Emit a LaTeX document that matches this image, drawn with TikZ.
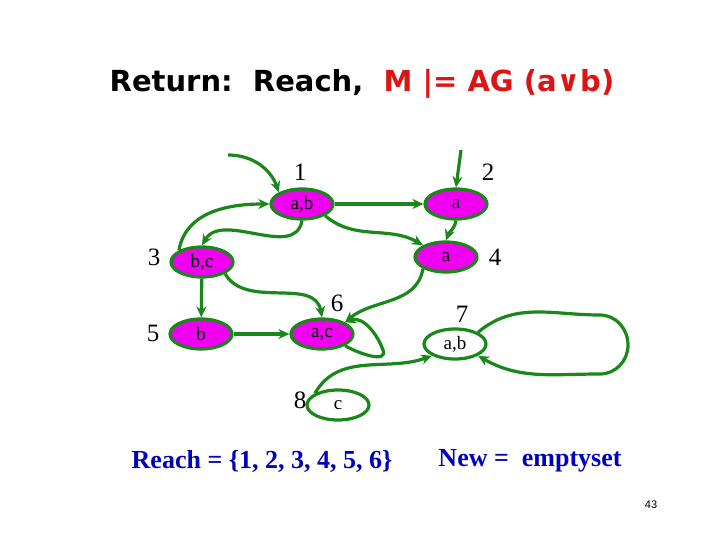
\documentclass[tikz,border=0pt]{standalone}
\usepackage{fontspec}
\setmainfont{Liberation Serif}
\newfontfamily\titlefont{DejaVu Sans}
\newfontfamily\numfont{Liberation Sans}
\usetikzlibrary{shapes.geometric,arrows.meta}
\definecolor{egreen}{RGB}{25,135,25}
\definecolor{mag}{RGB}{240,0,240}
\definecolor{tred}{RGB}{220,20,20}
\definecolor{tblue}{RGB}{0,0,190}
\begin{document}
\begin{tikzpicture}[x=1pt,y=-1pt,
  st/.style={ellipse,draw=egreen,line width=3.2pt,fill=mag,minimum width=62pt,minimum height=30pt,inner sep=0pt,font=\fontsize{19}{19}\selectfont},
  wst/.style={st,fill=white},
  lbl/.style={font=\fontsize{25}{25}\selectfont},
  ed/.style={draw=egreen,line width=3.2pt,-{Stealth[length=11pt,width=10pt]}}]
\useasboundingbox (0,0) rectangle (720,540);
\node[font=\titlefont\bfseries\fontsize{29}{29}\selectfont] (t1) at (362,84) {Return:\ \ Reach,\ \ \textcolor{tred}{M |= AG (a∨b)}};
\node[st] (n1) at (302,204) {a,b};
\node[st] (n2) at (456,204) {a};
\node[st] (n3) at (202,262) {b,c};
\node[st] (n4) at (446,257) {a};
\node[st] (n5) at (201,334) {b};
\node[st] (n6) at (322,334) {a,c};
\node[wst] (n7) at (455,344) {a,b};
\node[wst] (n8) at (338,405) {c};
\node[lbl] (l1) at (300,172) {1};
\node[lbl] (l2) at (488,172) {2};
\node[lbl] (l3) at (154,257) {3};
\node[lbl] (l4) at (495,257) {4};
\node[lbl] (l5) at (153,333) {5};
\node[lbl] (l6) at (337,303) {6};
\node[lbl] (l7) at (462,314) {7};
\node[lbl] (l8) at (300,400) {8};
\coordinate (i1) at (228,155);
\coordinate (i2) at (461,150);
\draw[ed] (i1) to[out=0,in=110] (n1.north west);
\draw[ed] (i2) -- (n2.north);
\draw[ed] (n1) -- (n2);
\draw[ed] (n1.south) to[out=-100,in=60] (n3.north);
\draw[ed] (n3.north west) to[out=80,in=180] (n1.west);
\draw[ed] (n1.south east) to[out=-40,in=150] (n4.north west);
\draw[ed] (n2.south) to[out=-100,in=70] (n4.north);
\draw[ed] (n3) -- (n5);
\draw[ed] (n3.south east) to[out=-60,in=100] (n6.north);
\draw[ed] (n4.south west) to[out=-100,in=40] (n6.north east);
\draw[ed] (n5) -- (n6);
\draw[ed] (n6.south east) to[out=-30,in=-70,looseness=1] (383,350) to[out=110,in=20] (n6.north east);
\draw[ed] (n7.north east) to[out=40,in=180] (600,315) to[out=0,in=90] (628,345) to[out=-90,in=0] (600,374) to[out=180,in=-30] (n7.south east);
\draw[ed] (n8.north west) to[out=60,in=200] (n7.south west);
\node[font=\bfseries\fontsize{26}{26}\selectfont,text=tblue] (b1) at (262,461) {Reach = \{1, 2, 3, 4, 5, 6\}};
\node[font=\bfseries\fontsize{26}{26}\selectfont,text=tblue] (b2) at (530,461) {New =\ \ emptyset};
\node[font=\numfont\fontsize{11}{11}\selectfont] (pg) at (651,505) {43};
\end{tikzpicture}
\end{document}
